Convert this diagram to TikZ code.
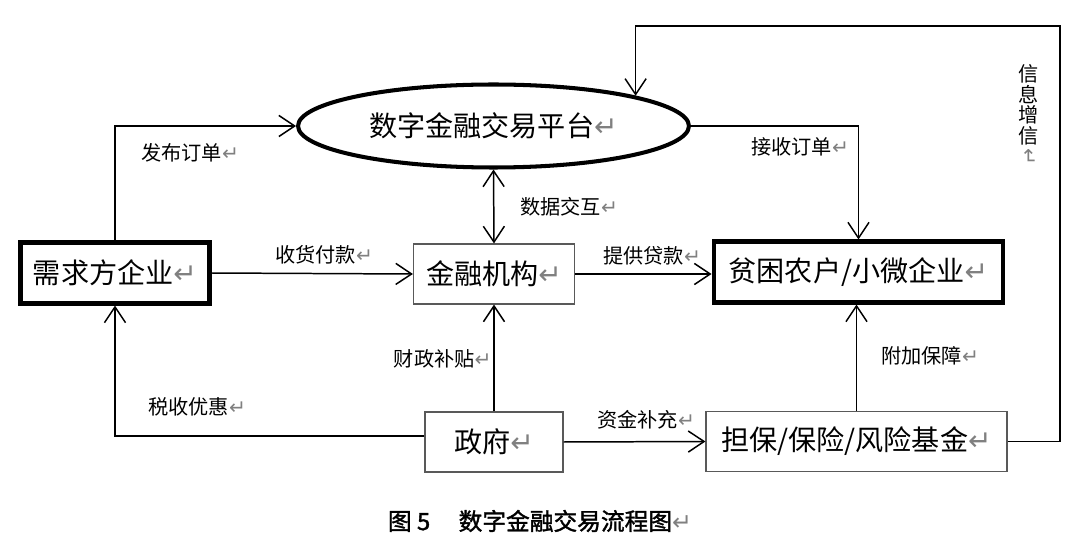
\documentclass[tikz,border=0pt]{standalone}
\usepackage{fontspec}
\setmainfont{Noto Sans CJK SC}
\newfontfamily\retfont{DejaVu Sans}
\newfontfamily\capfont[FakeBold=1.5]{Noto Sans CJK SC}
\usetikzlibrary{shapes.geometric, arrows.meta}
\newcommand{\retmark}{{\retfont\color{gray}\char"21B5}}

\begin{document}
\begin{tikzpicture}[x=0.02cm, y=-0.02cm,
    arr/.style={line width=0.85pt, -{Straight Barb[length=9pt, width=12pt]}},
    dblarr/.style={line width=0.85pt,
      {Straight Barb[length=9pt, width=12pt]}-{Straight Barb[length=9pt, width=12pt]}},
    bigtext/.style={font=\fontsize{16}{18}\selectfont},
    lbl/.style={font=\fontsize{11.5}{13}\selectfont, inner sep=0pt},
    thickbox/.style={draw, line width=2.3pt, bigtext, minimum height=1.22cm},
    thinbox/.style={draw=black!65, line width=0.7pt, bigtext, minimum height=1.2cm}]
        \useasboundingbox (0, 0) rectangle (1080, 544);
        \node[ellipse, draw, line width=2.3pt, bigtext, minimum width=7.82cm,
          minimum height=1.66cm] (plat) at (493.5, 126) {数字金融交易平台\retmark};
        \node[thickbox, minimum width=3.78cm] (demand) at (115, 273) {需求方企业\retmark};
        \node[thinbox, minimum width=3.22cm] (bank) at (494, 274) {金融机构\retmark};
        \node[thickbox, minimum width=5.8cm] (farmer) at (858.5, 272)
          {贫困农户/小微企业\retmark};
        \node[thinbox, minimum width=2.76cm] (gov) at (494, 442) {政府\retmark};
        \node[thinbox, minimum width=6.02cm] (fund) at (856.5, 441.5)
          {担保/保险/风险基金\retmark};
        \coordinate (fb) at (1060, 26);
        \node[lbl, anchor=west] (lorder) at (141, 153) {发布订单\retmark};
        \node[lbl, anchor=west] (lpay) at (275, 255) {收货付款\retmark};
        \node[lbl, anchor=west] (ldata) at (520, 207) {数据交互\retmark};
        \node[lbl, anchor=west] (lrecv) at (751, 147) {接收订单\retmark};
        \node[lbl, anchor=west] (lloan) at (603, 256) {提供贷款\retmark};
        \node[lbl, anchor=east] (lsub) at (492, 359) {财政补贴\retmark};
        \node[lbl, anchor=west] (ltax) at (148, 407) {税收优惠\retmark};
        \node[lbl, anchor=west] (lfund) at (597, 420) {资金补充\retmark};
        \node[lbl, anchor=west] (lguar) at (881, 356) {附加保障\retmark};
        \node[lbl, anchor=north, align=center, font=\fontsize{11.5}{11.8}\selectfont]
          (linfo) at (1029, 64) {信\\息\\增\\信\\[-9pt]\rotatebox{-90}{\retmark}};
        \node[font=\fontsize{13.5}{15}\selectfont\capfont] (cap) at (540, 521)
          {图 5\hspace{1.2em}数字金融交易流程图\retmark};
        \draw[arr] (demand.north) |- (plat.west);
        \draw[arr] (demand.east) -- (bank.west);
        \draw[dblarr] (plat.south) -- (bank.north);
        \draw[arr] (plat.east) -| (farmer.north);
        \draw[arr] (bank.east) -- (bank.east -| farmer.west);
        \draw[arr] (gov.north) -- (bank.south);
        \draw[arr] ([yshift=0.12cm]gov.west) -| (demand.south);
        \draw[arr] (gov.east) -- (fund.west);
        \draw[arr] (fund.north) -- (fund.north |- farmer.south);
        \draw[arr] (fund.east) -| (fb) -| (plat.12);
      \end{tikzpicture}
\end{document}
